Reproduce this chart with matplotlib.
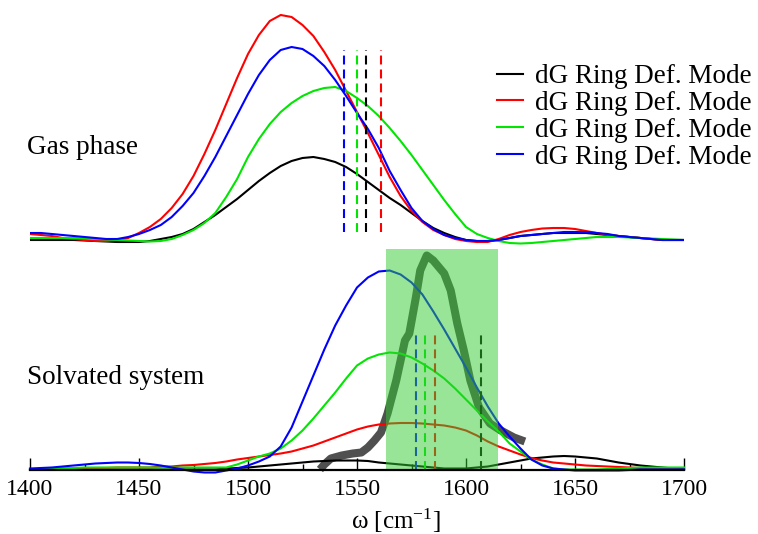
import matplotlib
matplotlib.use('Agg')
import matplotlib.pyplot as plt

plt.rcParams['font.family'] = ['Liberation Serif', 'DejaVu Serif']
plt.rcParams['mathtext.fontset'] = 'custom'
plt.rcParams['mathtext.rm'] = 'Liberation Serif'
plt.rcParams['mathtext.it'] = 'Liberation Serif:italic'

# ---------------- data ----------------
wavenumber = list(range(1400, 1701, 5))

# Gas phase (heights above the upper baseline)
gas_black = [1, 1, 1, 1, 1, 0.5, 0, -0.5, -1, -1,
             -1, 0, 2, 4, 7, 12, 19, 26, 34, 42,
             51, 60, 68, 75, 80, 83, 84, 82, 79, 74,
             67, 59, 51, 43, 36, 28, 20, 13, 8, 4,
             1, 0, 0, 1, 3, 5, 6, 7, 8, 8,
             8, 8, 7, 6, 5, 4, 3, 2, 1, 1,
             1]
gas_red = [7, 6, 5, 3, 2, 1, 0, 0, 1, 3,
           8, 14, 22, 33, 47, 65, 87, 111, 137, 163,
           187, 206, 220, 226, 224, 216, 205, 189, 171, 150,
           129, 108, 86, 64, 45, 30, 19, 11, 6, 2,
           0, -1, -1, 2, 6, 9, 11, 12.5, 13, 13,
           12, 10, 8, 6, 5, 4, 3, 2, 1, 1,
           1]
gas_green = [3, 3, 3, 3, 3, 2.5, 2, 1.5, 1, 0.5,
             0, -0.5, 0, 2, 6, 11, 18, 28, 44, 62,
             84, 102, 117, 129, 138, 145, 150, 153, 154, 150,
             143, 135, 125, 113, 100, 86, 71, 56, 41, 27,
             14, 7, 3, 0, -2, -2.5, -2, -1, 0, 1,
             2, 3, 4, 4, 4, 3.5, 3, 2.5, 2, 1.5,
             1]
gas_blue = [8, 8, 7, 6, 5, 4, 3, 2, 2, 4,
            7, 11, 16, 24, 35, 48, 65, 84, 105, 126,
            147, 166, 181, 191, 194, 192, 185, 175, 161, 145,
            128, 112, 93, 70, 51, 33, 20, 12, 6, 3,
            1, 0, 0, 1, 3, 5, 6, 7, 8, 9,
            9, 9, 8, 7, 5, 4, 3, 2, 1, 1,
            1]
gas_peaks = [1554, 1561, 1550, 1544]   # black, red, green, blue dashed markers

# Solvated system
sol_black = [0, 0, 0, 0, 0, 0, 0, 0, 0, 0,
             0, 0, 0, 0, 0, 0, 0, 0, 1, 1.5,
             2, 3, 4, 5, 6, 7, 8, 8.5, 9, 9,
             9, 8.5, 7, 6, 5, 4, 3, 2, 1, 1,
             1, 2, 3, 5, 7, 9, 11, 12, 13, 13.5,
             13, 12, 11, 9, 7, 5.5, 4, 3, 2, 1,
             1]
sol_red = [0, 0, 0.5, 1, 1, 1, 1.5, 1.5, 2, 2,
           2, 2, 3, 3, 4, 4.5, 5.5, 6.5, 8, 10,
           11.5, 13, 14.5, 16, 18, 21, 24, 28, 32, 36,
           40, 43, 45, 46, 46.5, 46.5, 46, 45, 44, 42,
           39, 34, 28, 23, 19, 15, 11.5, 9, 7, 6,
           5, 4, 3.5, 3, 2.5, 2, 1.5, 1, 0.5, 0.5,
           0]
sol_green = [0, 0.5, 1, 1, 1.5, 2, 2, 2, 2, 2,
             2, 2, 2, 2, 2, 2, 2, 2, 2, 5,
             9, 13, 16, 21, 29, 39, 51, 64, 77, 91,
             104, 111, 115, 117, 116, 112, 106, 99, 91, 81,
             70, 59, 48, 38, 26, 18, 10, 5, 1, 0,
             0, 0, 0, 0.5, 1, 1.5, 2, 2, 2, 2,
             2]
sol_blue = [1, 1.5, 2, 3, 4, 5, 6, 6.5, 7, 7,
            6.5, 5.5, 4, 2, 0, -2, -3, -3, -1, 1,
            4, 8, 13, 23, 42, 68, 94, 120, 144, 164,
            182, 192, 198, 199, 195, 187, 175, 158, 140, 121,
            102, 82, 63, 46, 33, 21, 10, 4, 1, 0,
            -1, -1, -1, -1, -1, -0.5, 0, 0, 0, 0,
            0]
sol_peaks = [1607, 1586, 1581, 1577]   # black, red, green, blue dashed markers

# Experimental band
exp_w = [1533, 1535, 1538, 1543, 1548, 1552, 1555, 1558, 1561, 1564, 1568, 1572, 1574, 1577,
         1579, 1582, 1585, 1590, 1593, 1596, 1599, 1602, 1606, 1611, 1616, 1622, 1627]
exp_h = [0, 5, 11, 14, 16, 17, 22, 29, 37, 56, 89, 129, 136, 172,
         199, 214, 209, 196, 179, 146, 119, 89, 62, 46, 39, 32, 28]

shade_range = [1563.3, 1614.7]
shade_top = 221

labels = ['dG Ring Def. Mode'] * 4
colors = ['#000000', '#ff0000', '#00e600', '#0000ff']

TOP = 228.5   # vertical offset of the gas-phase spectra

# ---------------- figure ----------------
fig = plt.figure(figsize=(7.58, 5.34), dpi=100)
ax = fig.add_axes([30 / 758, (534 - 480) / 534, 654 / 758, 480 / 534])
ax.set_xlim(1400, 1700)
ax.set_ylim(-10.5, 469.5)

gas = [gas_black, gas_red, gas_green, gas_blue]
sol = [sol_black, sol_red, sol_green, sol_blue]

# experimental thick curve
ax.plot(exp_w, exp_h, color='#505050', lw=5.8, solid_capstyle='butt',
        solid_joinstyle='round', zorder=1)

handles = []
for ys, c, lab in zip(gas, colors, labels):
    h, = ax.plot(wavenumber, [TOP + v for v in ys], color=c, lw=1.5, label=lab, zorder=3)
    handles.append(h)
for ys, c in zip(sol, colors):
    ax.plot(wavenumber, ys, color=c, lw=1.5, zorder=3, clip_on=False)

dash = (0, (4.3, 2.4))
for p, c in zip(gas_peaks, colors):
    ax.vlines(p, TOP + 9, TOP + 191, colors=c, linestyles=dash, lw=1.5, zorder=4)
for p, c in zip(sol_peaks, colors):
    ax.vlines(p, 0, 135.5, colors=c, linestyles=dash, lw=1.5, zorder=4)

ax.fill_between(shade_range, 0, shade_top, color='#33cc33', alpha=0.5, lw=0, zorder=5)

# axes styling
for s in ['left', 'right', 'top']:
    ax.spines[s].set_visible(False)
ax.spines['bottom'].set_position(('data', 0))
ax.spines['bottom'].set_linewidth(1.6)
ax.spines['bottom'].set_zorder(6)
ax.set_yticks([])
ax.set_xticks(list(range(1400, 1701, 50)))
ax.set_xticks(list(range(1425, 1700, 50)), minor=True)
ax.tick_params(axis='x', which='major', direction='in', length=9, width=1, labelsize=17, pad=6.5)
ax.tick_params(axis='x', which='minor', direction='in', length=4, width=1)
ax.patch.set_visible(False)

ax.legend(handles=handles, loc='upper left', bbox_to_anchor=(497 / 758, 1 - 64 / 534),
          bbox_transform=fig.transFigure, frameon=False, borderpad=0, borderaxespad=0,
          handlelength=0.96, handletextpad=0.44, labelspacing=0.07, fontsize=19.5)

fig.text(27 / 758, 1 - 148 / 534, 'Gas phase', va='center', ha='left', fontsize=19.5)
fig.text(27 / 758, 1 - 378 / 534, 'Solvated system', va='center', ha='left', fontsize=19.5)
fig.text(396 / 758, 1 - 521 / 534, r'ω [cm$^{-1}$]', va='center', ha='center', fontsize=18)

fig.savefig('out.png', dpi=100)
